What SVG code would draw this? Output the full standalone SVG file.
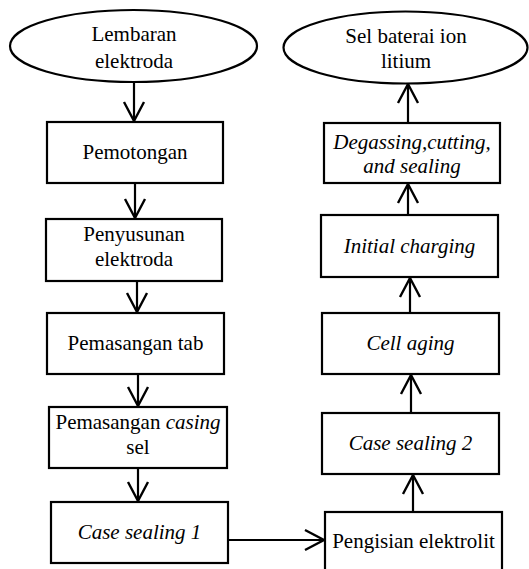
<svg xmlns="http://www.w3.org/2000/svg" width="529" height="569" viewBox="0 0 529 569">
<style>
.n{fill:#fff;stroke:#000;stroke-width:2.2}
.t{font-family:'Liberation Serif',Tinos,'Noto Serif','DejaVu Serif','Times New Roman',Times,serif;font-size:21px;fill:#000;text-anchor:middle}
.i{font-style:italic}
.c{stroke:#000;stroke-width:2.2;fill:none}
</style>
<defs>
<marker id="ah" markerUnits="userSpaceOnUse" markerWidth="24" markerHeight="24" viewBox="-20 -12 24 24" refX="0" refY="0" orient="auto">
<path d="M-19,-10 L0,0 L-19,10" fill="none" stroke="#000" stroke-width="2.4"/>
</marker>
</defs>
<rect width="529" height="569" fill="#fff"/>
<g id="connectors">
<line class="c" x1="134" y1="82" x2="134" y2="121" marker-end="url(#ah)"/>
<line class="c" x1="135" y1="183" x2="135" y2="218" marker-end="url(#ah)"/>
<line class="c" x1="137" y1="281" x2="137" y2="312" marker-end="url(#ah)"/>
<line class="c" x1="138" y1="374" x2="138" y2="406" marker-end="url(#ah)"/>
<line class="c" x1="138" y1="468" x2="138" y2="501" marker-end="url(#ah)"/>
<line class="c" x1="228" y1="540" x2="324" y2="540" marker-end="url(#ah)"/>
<line class="c" x1="413" y1="512" x2="413" y2="475" marker-end="url(#ah)"/>
<line class="c" x1="411" y1="413" x2="411" y2="375" marker-end="url(#ah)"/>
<line class="c" x1="410" y1="313" x2="410" y2="278" marker-end="url(#ah)"/>
<line class="c" x1="408" y1="215" x2="408" y2="184" marker-end="url(#ah)"/>
<line class="c" x1="408" y1="123" x2="408" y2="84" marker-end="url(#ah)"/>
</g>
<g id="lembaran">
<ellipse class="n" cx="133.5" cy="46" rx="123.5" ry="36"/>
<text class="t" x="134" y="41">Lembaran</text>
<text class="t" x="134" y="68">elektroda</text>
</g>
<g id="pemotongan">
<rect class="n" x="47" y="122" width="176" height="61"/>
<text class="t" x="135" y="159">Pemotongan</text>
</g>
<g id="penyusunan">
<rect class="n" x="46" y="219" width="176" height="62"/>
<text class="t" x="134" y="241">Penyusunan</text>
<text class="t" x="134" y="266">elektroda</text>
</g>
<g id="pemasangan-tab">
<rect class="n" x="47" y="313" width="177" height="61"/>
<text class="t" x="135.5" y="350">Pemasangan tab</text>
</g>
<g id="pemasangan-casing">
<rect class="n" x="49" y="407" width="178" height="61"/>
<text class="t" x="138" y="429">Pemasangan <tspan class="i">casing</tspan></text>
<text class="t" x="138" y="454">sel</text>
</g>
<g id="case-sealing-1">
<rect class="n" x="51" y="502" width="177" height="61"/>
<text class="t i" x="139.5" y="539">Case sealing 1</text>
</g>
<g id="pengisian">
<rect class="n" x="325" y="512" width="177" height="62"/>
<text class="t" x="413.5" y="548">Pengisian elektrolit</text>
</g>
<g id="case-sealing-2">
<rect class="n" x="322" y="413" width="177" height="61"/>
<text class="t i" x="410.5" y="450">Case sealing 2</text>
</g>
<g id="cell-aging">
<rect class="n" x="322" y="313" width="177" height="61"/>
<text class="t i" x="410.5" y="350">Cell aging</text>
</g>
<g id="initial-charging">
<rect class="n" x="321" y="215" width="177" height="62"/>
<text class="t i" x="409.5" y="253">Initial charging</text>
</g>
<g id="degassing">
<rect class="n" x="324" y="123" width="176" height="60"/>
<text class="t i" x="412" y="149">Degassing,cutting,</text>
<text class="t i" x="412" y="173">and sealing</text>
</g>
<g id="sel-baterai">
<ellipse class="n" cx="405.5" cy="47.5" rx="122" ry="36"/>
<text class="t" x="406" y="43">Sel baterai ion</text>
<text class="t" x="406" y="68">litium</text>
</g>
</svg>
